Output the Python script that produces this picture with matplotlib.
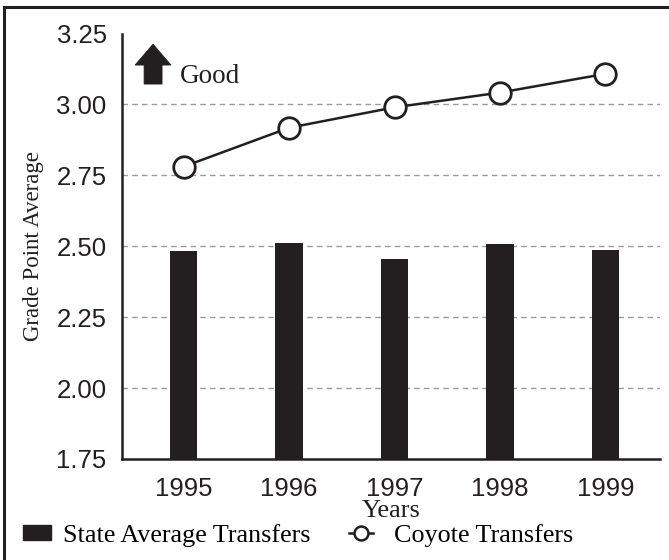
import matplotlib.pyplot as plt
from matplotlib.lines import Line2D
from matplotlib.patches import Patch, Polygon

# Data
years = ['1995', '1996', '1997', '1998', '1999']
state_avg = [2.483, 2.512, 2.455, 2.508, 2.487]
coyote = [2.781, 2.918, 2.990, 3.042, 3.108]
yticks = [1.75, 2.00, 2.25, 2.50, 2.75, 3.00, 3.25]
grid_levels = [2.00, 2.25, 2.50, 2.75, 3.00]

ink = '#231f20'
serif = 'Liberation Serif'
sans = 'Liberation Sans'

fig = plt.figure(figsize=(6.69, 5.6), dpi=100)
ax = fig.add_axes([0.1824, 0.1804, 0.8042, 0.7596])

x = list(range(len(years)))

# dashed grid lines (only inner levels)
for g in grid_levels:
    ax.axhline(g, color='#9a9a9a', linestyle=(0, (4, 3)), linewidth=1.0, zorder=0)

ax.bar(x, state_avg, width=0.26, bottom=0, color=ink, zorder=2)
ax.plot(x, coyote, color=ink, linewidth=1.8, marker='o', markersize=15.5,
        markerfacecolor='white', markeredgecolor=ink, markeredgewidth=2, zorder=3)

ax.set_xlim(-0.585, 4.519)
ax.set_ylim(1.75, 3.25)
ax.set_xticks(x)
ax.set_xticklabels(years, fontfamily=sans, fontsize=18.5, color=ink)
ax.set_yticks(yticks)
ax.set_yticklabels([f'{v:.2f}' for v in yticks], fontfamily=sans, fontsize=18.5, color=ink)
ax.tick_params(axis='both', length=0)
ax.tick_params(axis='x', pad=13)
ax.tick_params(axis='y', pad=11)

for side in ['top', 'right']:
    ax.spines[side].set_visible(False)
for side in ['left', 'bottom']:
    ax.spines[side].set_linewidth(1.8)
    ax.spines[side].set_color(ink)

ax.set_ylabel('Grade Point Average', fontfamily=serif, fontsize=16.5, color=ink, labelpad=9)
ax.set_xlabel('Years', fontfamily=serif, fontsize=19, color=ink, labelpad=-1)

# "Good" arrow
arrow = Polygon([(-0.462, 3.139), (-0.291, 3.213), (-0.120, 3.139), (-0.205, 3.139),
                 (-0.205, 3.072), (-0.376, 3.072), (-0.376, 3.139)],
                closed=True, facecolor=ink, edgecolor=ink, linewidth=0.5, clip_on=False)
ax.add_patch(arrow)
ax.text(-0.04, 3.097, 'Good', fontfamily=serif, fontsize=19.5, color=ink,
        ha='left', va='center')

# legend, one entry per box so each can be placed on its own
bar_handle = Patch(facecolor=ink, edgecolor=ink)
line_handle = Line2D([0], [0], color=ink, linewidth=1.8, marker='o', markersize=10,
                     markerfacecolor='white', markeredgecolor=ink, markeredgewidth=1.8)
leg_font = {'family': serif, 'size': 18.8}
leg1 = fig.legend([bar_handle], ['State Average Transfers'], loc='lower left',
                  bbox_to_anchor=(0.0144, 0.0), frameon=False, prop=leg_font,
                  handlelength=1.07, handleheight=0.52, handletextpad=0.48,
                  borderaxespad=0.1)
leg2 = fig.legend([line_handle], ['Coyote Transfers'], loc='lower left',
                  bbox_to_anchor=(0.5016, 0.0), frameon=False, prop=leg_font,
                  handlelength=0.95, handletextpad=0.78, borderaxespad=0.1)

# partial frame (top and left edges)
fig.add_artist(Line2D([0.006, 0.006], [0.0, 0.988], color=ink, linewidth=2.2,
                      transform=fig.transFigure))
fig.add_artist(Line2D([0.006, 1.0], [0.988, 0.988], color=ink, linewidth=2.2,
                      transform=fig.transFigure))

fig.savefig('out.png', dpi=100, facecolor='white')
